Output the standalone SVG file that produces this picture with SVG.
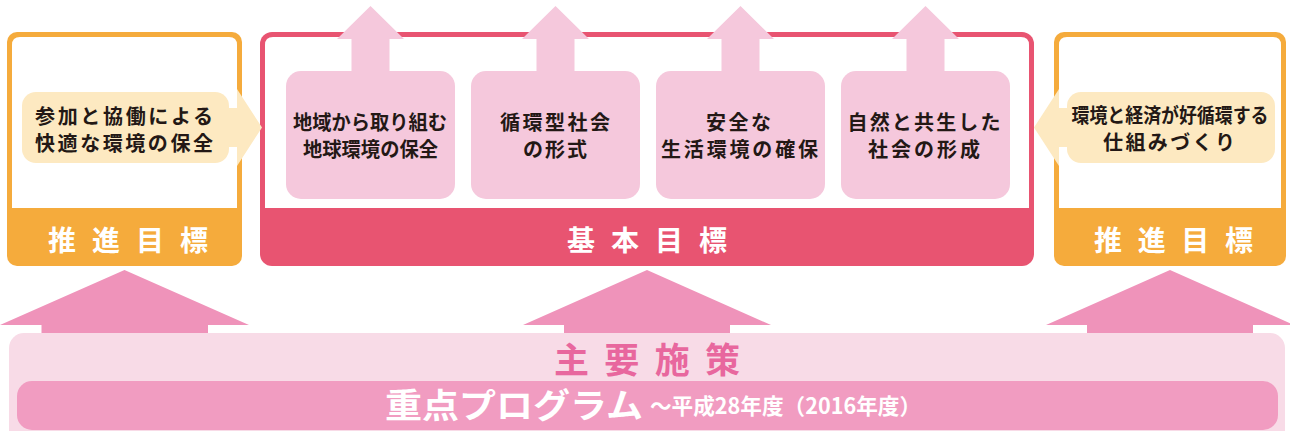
<svg xmlns="http://www.w3.org/2000/svg" width="1290" height="431" viewBox="0 0 1290 431">
<style>
text{font-family:"Noto Sans CJK JP","Noto Sans",sans-serif;font-weight:bold;}
.dark{fill:#231815;font-size:20px;}
.band{fill:#ffffff;font-size:28px;}
.sub{fill:#f5c8dc;}
.cream{fill:#fde9c1;}
.org{fill:#f5ab3c;}
.red{fill:#e85471;}
.barrow{fill:#ef93ba;}
</style>
<rect width="1290" height="431" fill="#ffffff"/>

<g id="connectors">
  <!-- bottom big arrows -->
  <path class="barrow" d="M124.5,270 L249,325 L208,325 L208,336 L41.5,336 L41.5,325 L0,325 Z"/>
  <path class="barrow" d="M647,270 L771,325 L730,325 L730,336 L564,336 L564,325 L523,325 Z"/>
  <path class="barrow" d="M1170,270 L1294,325 L1253,325 L1253,336 L1087,336 L1087,325 L1046,325 Z"/>
</g>

<g id="left-goal">
  <rect class="org" x="7" y="32" width="235" height="234" rx="10"/>
  <path fill="#ffffff" d="M12,45 Q12,37 20,37 L229,37 Q237,37 237,45 L237,208 L12,208 Z"/>
  <text class="band" x="48" y="251" textLength="160" lengthAdjust="spacing">推進目標</text>
</g>

<g id="basic-goal">
  <rect class="red" x="260" y="32" width="774" height="234" rx="12"/>
  <path fill="#ffffff" d="M265,45 Q265,37 273,37 L1021,37 Q1029,37 1029,45 L1029,208 L265,208 Z"/>
  <text class="band" x="567" y="251" textLength="160" lengthAdjust="spacing">基本目標</text>
</g>

<g id="right-goal">
  <rect class="org" x="1054" y="32" width="232" height="234" rx="10"/>
  <path fill="#ffffff" d="M1059,45 Q1059,37 1067,37 L1273,37 Q1281,37 1281,45 L1281,208 L1059,208 Z"/>
  <text class="band" x="1094" y="251" textLength="159" lengthAdjust="spacing">推進目標</text>
</g>

<g id="connectors-top">
  <path class="sub" d="M351.5,72 L351.5,39 L337,39 L370.5,6 L404,39 L389.5,39 L389.5,72 Z"/>
  <path class="sub" d="M536.5,72 L536.5,39 L522,39 L555.5,6 L589,39 L574.5,39 L574.5,72 Z"/>
  <path class="sub" d="M721.5,72 L721.5,39 L707,39 L740.5,6 L774,39 L759.5,39 L759.5,72 Z"/>
  <path class="sub" d="M906.5,72 L906.5,39 L892,39 L925.5,6 L959,39 L944.5,39 L944.5,72 Z"/>
  <path class="cream" d="M225,108 L237,108 L237,89 L262,127.5 L237,166 L237,147 L225,147 Z"/>
  <path class="cream" d="M1071,108 L1059,108 L1059,89 L1034,127.5 L1059,166 L1059,147 L1071,147 Z"/>
</g>

<g id="left-bubble">
  <rect class="cream" x="22" y="92" width="207" height="71" rx="14"/>
  <text class="dark" x="124" y="124" text-anchor="middle" textLength="178" lengthAdjust="spacing">参加と協働による</text>
  <text class="dark" x="124" y="151" text-anchor="middle" textLength="178" lengthAdjust="spacing">快適な環境の保全</text>
</g>

<g id="right-bubble">
  <rect class="cream" x="1067" y="92" width="208" height="71" rx="14"/>
  <text class="dark" x="1170" y="123" text-anchor="middle" textLength="197" lengthAdjust="spacingAndGlyphs">環境と経済が好循環する</text>
  <text class="dark" x="1169" y="150" text-anchor="middle" textLength="132" lengthAdjust="spacing">仕組みづくり</text>
</g>

<g id="goal1">
  <rect class="sub" x="286" y="71" width="169" height="128" rx="15"/>
  <text class="dark" x="370" y="129.5" text-anchor="middle" textLength="154" lengthAdjust="spacingAndGlyphs">地域から取り組む</text>
  <text class="dark" x="370.5" y="156.5" text-anchor="middle" textLength="135" lengthAdjust="spacingAndGlyphs">地球環境の保全</text>
</g>
<g id="goal2">
  <rect class="sub" x="471" y="71" width="169" height="128" rx="15"/>
  <text class="dark" x="555" y="129.5" text-anchor="middle" textLength="110" lengthAdjust="spacing">循環型社会</text>
  <text class="dark" x="555" y="156.5" text-anchor="middle" textLength="64" lengthAdjust="spacing">の形式</text>
</g>
<g id="goal3">
  <rect class="sub" x="656" y="71" width="169" height="128" rx="15"/>
  <text class="dark" x="738.5" y="129.5" text-anchor="middle" textLength="65" lengthAdjust="spacing">安全な</text>
  <text class="dark" x="739.5" y="156.5" text-anchor="middle" textLength="157" lengthAdjust="spacing">生活環境の確保</text>
</g>
<g id="goal4">
  <rect class="sub" x="841" y="71" width="169" height="128" rx="15"/>
  <text class="dark" x="924" y="129.5" text-anchor="middle" textLength="153" lengthAdjust="spacing">自然と共生した</text>
  <text class="dark" x="924" y="156.5" text-anchor="middle" textLength="112" lengthAdjust="spacing">社会の形成</text>
</g>

<g id="measures">
  <rect x="9" y="333" width="1276" height="115" rx="15" fill="#f8dbe7"/>
  <text x="554" y="373" font-size="35" fill="#e8679e" textLength="186" lengthAdjust="spacing">主要施策</text>
  <rect x="17" y="381" width="1261" height="49" rx="15" fill="#f19cc1"/>
  <text x="385" y="418" font-size="34" fill="#ffffff" textLength="258" lengthAdjust="spacingAndGlyphs">重点プログラム</text>
  <text x="650" y="414" font-size="22" fill="#ffffff" textLength="271" lengthAdjust="spacingAndGlyphs">～平成28年度（2016年度）</text>
</g>
</svg>
